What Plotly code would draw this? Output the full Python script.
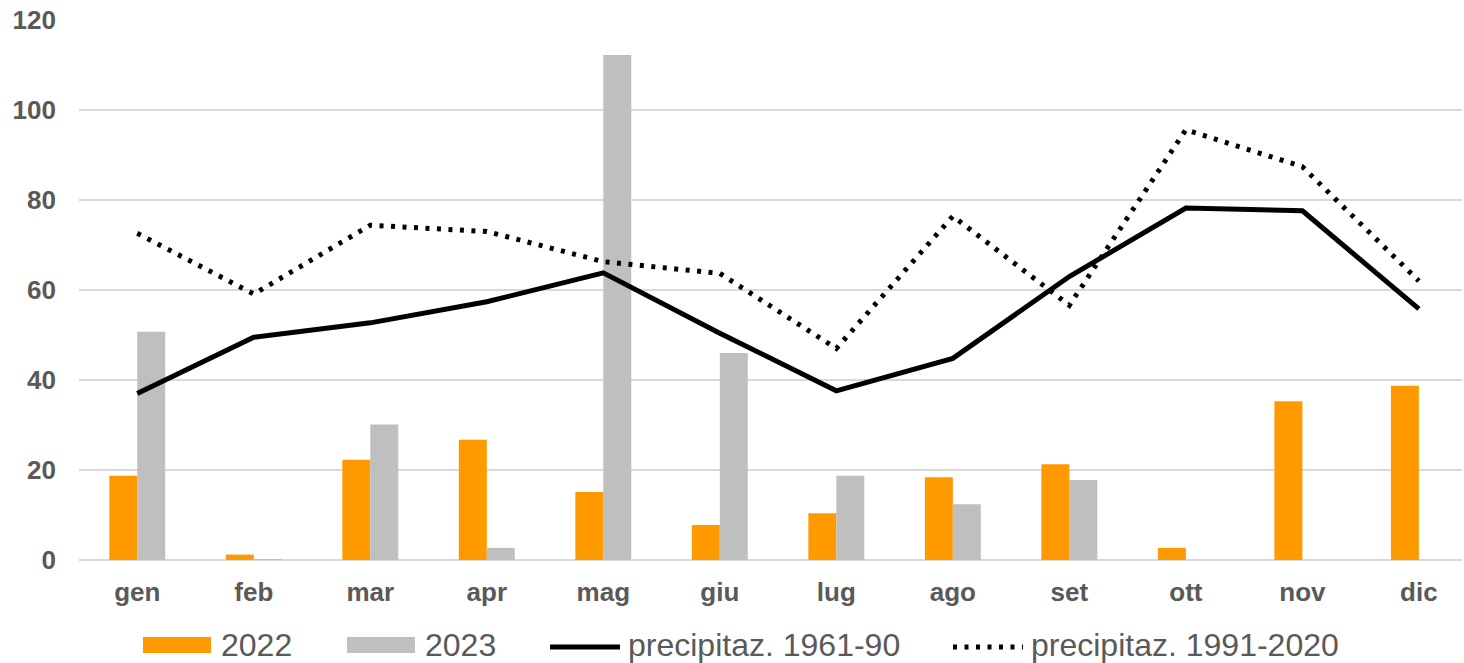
import plotly.graph_objects as go

months = ["gen", "feb", "mar", "apr", "mag", "giu", "lug", "ago", "set", "ott", "nov", "dic"]
rain_2022 = [18.7, 1.2, 22.3, 26.7, 15.1, 7.8, 10.4, 18.4, 21.3, 2.7, 35.3, 38.7]
rain_2023 = [50.7, 0.2, 30.1, 2.7, 112.2, 46.0, 18.7, 12.4, 17.8, None, None, None]
normal_1961_90 = [37.0, 49.5, 52.7, 57.4, 63.8, 50.4, 37.6, 44.8, 63.0, 78.2, 77.6, 55.8]
normal_1991_2020 = [72.6, 59.1, 74.4, 73.0, 66.3, 63.7, 47.0, 76.4, 56.6, 95.6, 87.4, 62.0]
y_ticks = [0, 20, 40, 60, 80, 100, 120]

text_color = "#595959"
font_family = "Liberation Sans, Arial, sans-serif"
orange = "#FF9900"
grey = "#BFBFBF"
dot_dash = "4px,7.5px"

W, H = 1464, 663
L, R, T, B = 79, 2, 20, 103
plot_w = W - L - R
plot_h = H - T - B

fig = go.Figure()
fig.add_trace(go.Bar(x=months, y=rain_2022, name="2022", marker=dict(color=orange, line=dict(width=0))))
fig.add_trace(go.Bar(x=months, y=rain_2023, name="2023", marker=dict(color=grey, line=dict(width=0))))
fig.add_trace(go.Scatter(x=months, y=normal_1961_90, name="precipitaz. 1961-90", mode="lines",
                         line=dict(color="#000000", width=5)))
fig.add_trace(go.Scatter(x=months, y=normal_1991_2020, name="precipitaz. 1991-2020", mode="lines",
                         line=dict(color="#000000", width=5, dash=dot_dash)))


def px_x(px):
    return (px - L) / plot_w


def px_y(py):
    return (H - B - py) / plot_h


# Legend drawn below the plot: wide swatches followed by their labels
legend_items = [
    ("2022", "bar", orange, 143),
    ("2023", "bar", grey, 347),
    ("precipitaz. 1961-90", "solid", "#000000", 550),
    ("precipitaz. 1991-2020", "dot", "#000000", 953),
]
shapes = []
annotations = []
legend_y = 645
for label, kind, color, x0 in legend_items:
    if kind == "bar":
        shapes.append(dict(type="rect", xref="paper", yref="paper",
                           x0=px_x(x0), x1=px_x(x0 + 68), y0=px_y(legend_y + 8), y1=px_y(legend_y - 8),
                           fillcolor=color, line=dict(width=0)))
    else:
        shapes.append(dict(type="line", xref="paper", yref="paper",
                           x0=px_x(x0), x1=px_x(x0 + 70), y0=px_y(legend_y + 2), y1=px_y(legend_y + 2),
                           line=dict(color=color, width=5, dash=None if kind == "solid" else dot_dash)))
    annotations.append(dict(xref="paper", yref="paper", x=px_x(x0 + 76), y=px_y(legend_y),
                            xanchor="left", yanchor="middle", showarrow=False, text=label,
                            font=dict(size=32, color=text_color, family=font_family)))

fig.update_layout(
    width=W, height=H,
    margin=dict(l=L, r=R, t=T, b=B),
    paper_bgcolor="white", plot_bgcolor="white",
    barmode="group", bargap=0.52, bargroupgap=0,
    font=dict(family=font_family, color=text_color),
    showlegend=False,
    shapes=shapes,
    annotations=annotations,
    xaxis=dict(range=[-0.5, 11.37], showgrid=False, zeroline=False, showline=False, ticks="",
               ticklabelstandoff=14,
               tickfont=dict(size=26, weight="bold", color=text_color)),
    yaxis=dict(range=[0, 120], tickvals=y_ticks, showgrid=True, gridcolor="#D9D9D9", gridwidth=2,
               zeroline=True, zerolinecolor="#D9D9D9", zerolinewidth=2, showline=False, ticks="",
               ticklabelstandoff=22,
               tickfont=dict(size=26, weight="bold", color=text_color)),
)

fig.write_html("out.html")
